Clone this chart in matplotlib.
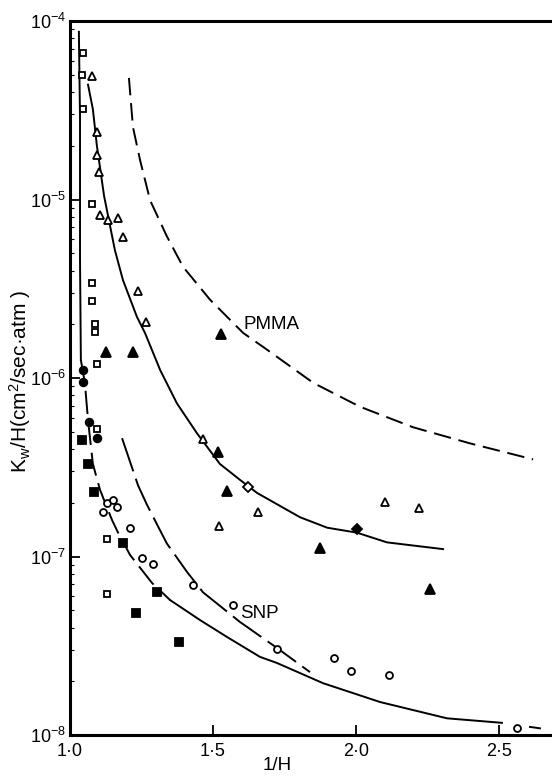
import matplotlib
matplotlib.use("Agg")
import matplotlib.pyplot as plt
from matplotlib.ticker import FixedLocator, LogLocator, NullFormatter

plt.rcParams["font.family"] = ["Liberation Sans", "DejaVu Sans"]
plt.rcParams["mathtext.fontset"] = "custom"
plt.rcParams["mathtext.rm"] = "Liberation Sans"
plt.rcParams["mathtext.it"] = "Liberation Sans"

# ----- measured points (1/H, Kw/H) -----
sq_open_x = [1.045, 1.042, 1.045, 1.077, 1.077, 1.077, 1.087, 1.087, 1.094, 1.094, 1.129, 1.129]
sq_open_y = [6.6e-5, 5.0e-5, 3.2e-5, 9.4e-6, 3.4e-6, 2.7e-6, 2.0e-6, 1.8e-6, 1.2e-6, 5.2e-7, 1.25e-7, 6.2e-8]

circ_fill_x = [1.045, 1.045, 1.066, 1.094]
circ_fill_y = [1.11e-6, 9.5e-7, 5.7e-7, 4.6e-7]

sq_fill_x = [1.042, 1.063, 1.084, 1.185, 1.304, 1.231, 1.381]
sq_fill_y = [4.5e-7, 3.3e-7, 2.3e-7, 1.19e-7, 6.3e-8, 4.8e-8, 3.3e-8]

circ_open_x = [1.115, 1.129, 1.150, 1.164, 1.210, 1.252, 1.290, 1.430, 1.570,
               1.724, 1.923, 1.983, 2.115, 2.563]
circ_open_y = [1.77e-7, 2.0e-7, 2.07e-7, 1.89e-7, 1.45e-7, 9.8e-8, 9.1e-8, 6.9e-8, 5.35e-8,
               3.03e-8, 2.7e-8, 2.29e-8, 2.17e-8, 1.09e-8]

tri_open_x = [1.077, 1.094, 1.094, 1.101, 1.105, 1.133, 1.168, 1.185, 1.238, 1.266,
              1.465, 1.521, 1.657, 2.101, 2.220]
tri_open_y = [4.9e-5, 2.39e-5, 1.77e-5, 1.43e-5, 8.2e-6, 7.7e-6, 7.9e-6, 6.2e-6, 3.07e-6, 2.06e-6,
              4.55e-7, 1.48e-7, 1.77e-7, 2.02e-7, 1.87e-7]

tri_fill_x = [1.126, 1.220, 1.528, 1.517, 1.549, 1.874, 2.259]
tri_fill_y = [1.40e-6, 1.40e-6, 1.76e-6, 3.85e-7, 2.33e-7, 1.12e-7, 6.6e-8]

dia_open_x, dia_open_y = [1.622], [2.45e-7]
dia_fill_x, dia_fill_y = [2.003], [1.43e-7]

# ----- drawn curves -----
pmma_x = [1.206, 1.220, 1.245, 1.280, 1.339, 1.395, 1.490, 1.605, 1.689, 1.850, 2.014, 2.199, 2.399, 2.619]
pmma_y = [4.8e-5, 2.55e-5, 1.66e-5, 9.9e-6, 6.2e-6, 4.2e-6, 2.74e-6, 1.79e-6, 1.44e-6, 9.4e-7,
          6.9e-7, 5.3e-7, 4.3e-7, 3.5e-7]

mid_x = [1.063, 1.080, 1.094, 1.119, 1.157, 1.185, 1.234, 1.262, 1.315, 1.374, 1.444, 1.524,
         1.594, 1.654, 1.804, 1.899, 2.003, 2.108, 2.304]
mid_y = [4.4e-5, 3.2e-5, 2.0e-5, 1.05e-5, 5.2e-6, 3.54e-6, 2.2e-6, 1.79e-6, 1.11e-6, 7.2e-7,
         4.9e-7, 3.3e-7, 2.69e-7, 2.27e-7, 1.66e-7, 1.45e-7, 1.36e-7, 1.2e-7, 1.1e-7]

left_top_x = [1.031, 1.035, 1.035, 1.038]
left_top_y = [8.7e-5, 2.86e-5, 4.6e-6, 1.26e-6]
left_mid_x = [1.038, 1.052, 1.063, 1.080, 1.105, 1.147, 1.168, 1.210, 1.287, 1.350]
left_mid_y = [1.26e-6, 9.4e-7, 5.8e-7, 3.3e-7, 2.36e-7, 1.6e-7, 1.36e-7, 1.02e-7, 7.1e-8, 5.7e-8]
left_bot_x = [1.350, 1.455, 1.549, 1.664, 1.724, 1.885, 2.084, 2.318, 2.510]
left_bot_y = [5.7e-8, 4.4e-8, 3.54e-8, 2.74e-8, 2.53e-8, 1.95e-8, 1.53e-8, 1.24e-8, 1.17e-8]
tail_x = [2.608, 2.643]
tail_y = [1.11e-8, 1.09e-8]

snp_x = [1.182, 1.238, 1.269, 1.315, 1.339, 1.409, 1.465, 1.594, 1.724, 1.839]
snp_y = [4.6e-7, 2.5e-7, 1.95e-7, 1.4e-7, 1.18e-7, 8.2e-8, 6.3e-8, 4.3e-8, 3.07e-8, 2.25e-8]

x_ticks = [1.0, 1.5, 2.0, 2.5]
x_tick_labels = ["1\u00b70", "1\u00b75", "2\u00b70", "2\u00b75"]
y_ticks = [1e-8, 1e-7, 1e-6, 1e-5, 1e-4]
y_tick_labels = ["10$^{-8}$", "10$^{-7}$", "10$^{-6}$", "10$^{-5}$", "10$^{-4}$"]


def main():
    fig = plt.figure(figsize=(5.52, 7.76), dpi=100)
    ax = fig.add_axes([70 / 552, 1 - 735 / 776, 1 - 70 / 552, 714 / 776])
    ax.set_yscale("log")

    lw, k = 1.4, "black"
    ax.plot(left_top_x, left_top_y, color=k, lw=lw)
    ax.plot(left_mid_x, left_mid_y, color=k, lw=lw, dashes=(12, 4))
    ax.plot(left_bot_x, left_bot_y, color=k, lw=lw)
    ax.plot(tail_x, tail_y, color=k, lw=lw)
    ax.plot(mid_x, mid_y, color=k, lw=lw)
    ax.plot(pmma_x, pmma_y, color=k, lw=lw, dashes=(9, 4))
    ax.plot(snp_x, snp_y, color=k, lw=lw, dashes=(18, 4))

    mk = dict(linestyle="none", color=k, markeredgewidth=1.3)
    ax.plot(sq_open_x, sq_open_y, marker="s", ms=5, mfc="white", **mk)
    ax.plot(circ_fill_x, circ_fill_y, marker="o", ms=5.5, **mk)
    ax.plot(sq_fill_x, sq_fill_y, marker="s", ms=6, **mk)
    ax.plot(circ_open_x, circ_open_y, marker="o", ms=5, mfc="white", **mk)
    ax.plot(tri_open_x, tri_open_y, marker="^", ms=5.8, mfc="white", **mk)
    ax.plot(tri_fill_x, tri_fill_y, marker="^", ms=7, **mk)
    ax.plot(dia_open_x, dia_open_y, marker="D", ms=5, mfc="white", **mk)
    ax.plot(dia_fill_x, dia_fill_y, marker="D", ms=5.5, **mk)

    ax.text(1.608, 2.0e-6, "PMMA", fontsize=13.5, va="center", ha="left")
    ax.text(1.594, 4.8e-8, "SNP", fontsize=13.5, va="center", ha="left")

    ax.set_xlim(1.0, 2.685)
    ax.set_ylim(1e-8, 1e-4)
    ax.xaxis.set_major_locator(FixedLocator(x_ticks))
    ax.set_xticklabels(x_tick_labels)
    ax.yaxis.set_major_locator(FixedLocator(y_ticks))
    ax.set_yticklabels(y_tick_labels)
    ax.yaxis.set_minor_locator(LogLocator(base=10, subs=range(2, 10)))
    ax.yaxis.set_minor_formatter(NullFormatter())
    ax.tick_params(which="major", direction="in", length=7, width=1.3, labelsize=13, pad=3)
    ax.tick_params(which="minor", direction="in", length=3, width=0.8)
    ax.tick_params(axis="x", pad=6)

    for s in ["left", "bottom", "top"]:
        ax.spines[s].set_linewidth(2.2)
    ax.spines["right"].set_visible(False)

    fig.text(20 / 552, 1 - 381 / 776, "K$_w$/H(cm$^2$/sec\u00b7atm )", rotation=90,
             fontsize=15, ha="center", va="center")
    fig.text(277 / 552, 1 - 765 / 776, "1/H", fontsize=13.5, ha="center", va="center")

    fig.savefig("out.png", dpi=100)


if __name__ == "__main__":
    main()
